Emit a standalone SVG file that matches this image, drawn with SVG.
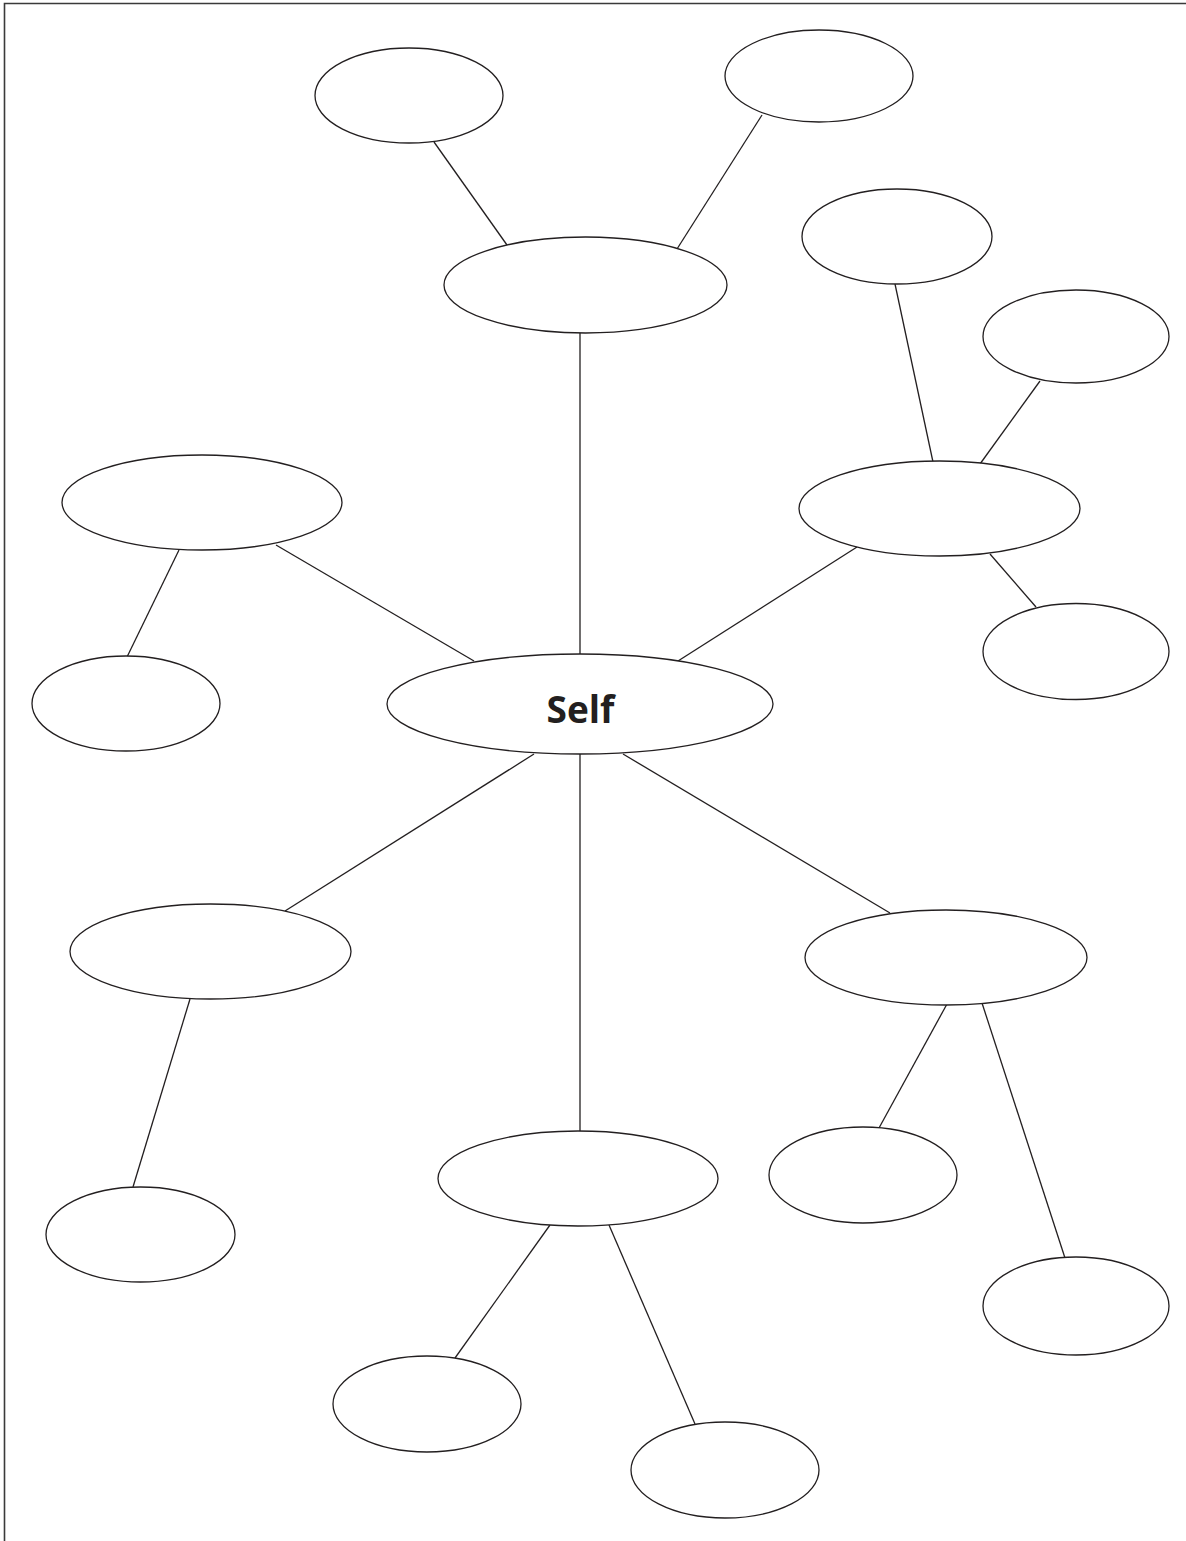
<svg xmlns="http://www.w3.org/2000/svg" width="1186" height="1541" viewBox="0 0 1186 1541">
  <style>
    .node { fill: #ffffff; stroke: #231f20; stroke-width: 1.3; }
    .link { stroke: #231f20; stroke-width: 1.3; fill: none; }
    .frame { stroke: #3a3a3a; stroke-width: 1.6; fill: none; }
    .label { font-family: "Open Sans", "Noto Sans", "Liberation Sans", sans-serif; font-weight: 700; font-size: 37px; fill: #231f20; text-anchor: middle; }
  </style>
  <rect width="1186" height="1541" fill="#ffffff"/>
  <!-- page frame: top and left edges only -->
  <path class="frame" d="M4.5 1541 V3.5 H1186"/>

  <!-- connectors -->
  <g id="connectors">
    <line class="link" x1="434" y1="142" x2="507" y2="245"/>
    <line class="link" x1="762" y1="115" x2="677" y2="249"/>
    <line class="link" x1="580" y1="333" x2="580" y2="654"/>
    <line class="link" x1="276" y1="545" x2="474" y2="661"/>
    <line class="link" x1="179" y1="550" x2="127" y2="657"/>
    <line class="link" x1="678" y1="661" x2="857" y2="547"/>
    <line class="link" x1="895" y1="284" x2="933" y2="462"/>
    <line class="link" x1="1040" y1="381" x2="980" y2="464"/>
    <line class="link" x1="990" y1="554" x2="1036" y2="607"/>
    <line class="link" x1="534" y1="754" x2="285" y2="911"/>
    <line class="link" x1="190" y1="999" x2="133" y2="1187"/>
    <line class="link" x1="580" y1="754" x2="580" y2="1131"/>
    <line class="link" x1="623" y1="754" x2="890" y2="913"/>
    <line class="link" x1="947" y1="1004" x2="879" y2="1128"/>
    <line class="link" x1="982" y1="1003" x2="1065" y2="1258"/>
    <line class="link" x1="550" y1="1225" x2="455" y2="1358"/>
    <line class="link" x1="609" y1="1225" x2="695" y2="1424"/>
  </g>

  <!-- central node -->
  <g id="self">
    <ellipse class="node" cx="580" cy="704" rx="193" ry="50"/>
    <text class="label" x="580.5" y="723">Self</text>
  </g>

  <!-- upper branch -->
  <g id="top"><ellipse class="node" cx="585.5" cy="285" rx="141.5" ry="48"/></g>
  <g id="top-left"><ellipse class="node" cx="409" cy="95.5" rx="94" ry="47.5"/></g>
  <g id="top-right"><ellipse class="node" cx="819" cy="76" rx="94" ry="46"/></g>

  <!-- right branch -->
  <g id="right"><ellipse class="node" cx="939.5" cy="508.5" rx="140.5" ry="47.5"/></g>
  <g id="right-a"><ellipse class="node" cx="897" cy="236.5" rx="95" ry="47.5"/></g>
  <g id="right-b"><ellipse class="node" cx="1076" cy="336.5" rx="93" ry="46.5"/></g>
  <g id="right-c"><ellipse class="node" cx="1076" cy="651.5" rx="93" ry="48"/></g>

  <!-- left branch -->
  <g id="left"><ellipse class="node" cx="202" cy="502.5" rx="140" ry="47.5"/></g>
  <g id="left-a"><ellipse class="node" cx="126" cy="703.5" rx="94" ry="47.5"/></g>

  <!-- lower left branch -->
  <g id="lower-left"><ellipse class="node" cx="210.5" cy="951.5" rx="140.5" ry="47.5"/></g>
  <g id="lower-left-a"><ellipse class="node" cx="140.5" cy="1234.5" rx="94.5" ry="47.5"/></g>

  <!-- lower right branch -->
  <g id="lower-right"><ellipse class="node" cx="946" cy="957.5" rx="141" ry="47.5"/></g>
  <g id="lower-right-a"><ellipse class="node" cx="863" cy="1175" rx="94" ry="48"/></g>
  <g id="lower-right-b"><ellipse class="node" cx="1076" cy="1306" rx="93" ry="49"/></g>

  <!-- bottom branch -->
  <g id="bottom"><ellipse class="node" cx="578" cy="1178.5" rx="140" ry="47.5"/></g>
  <g id="bottom-a"><ellipse class="node" cx="427" cy="1404" rx="94" ry="48"/></g>
  <g id="bottom-b"><ellipse class="node" cx="725" cy="1470" rx="94" ry="48"/></g>
</svg>
